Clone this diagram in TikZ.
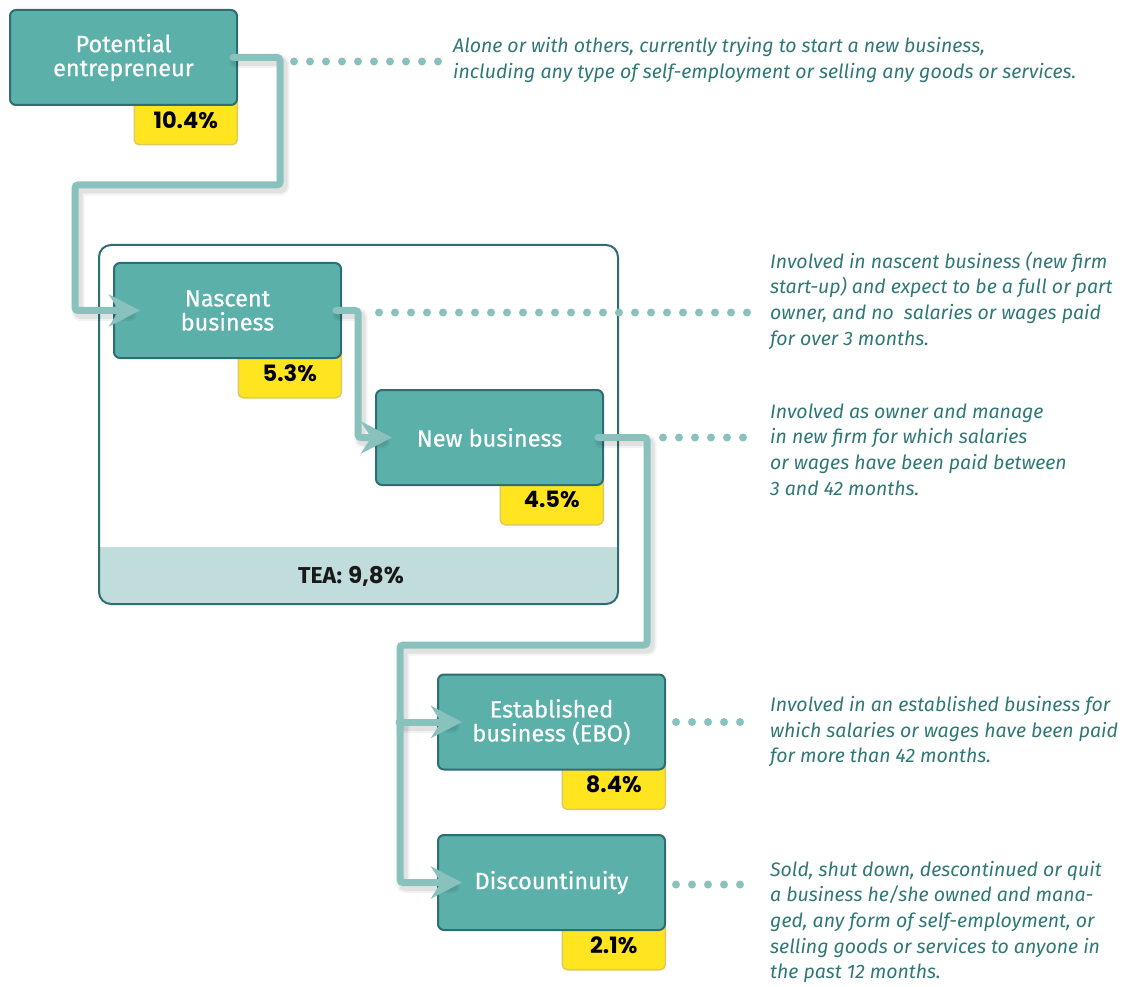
\documentclass[tikz,border=0pt]{standalone}
\usepackage{fontspec}
\setmainfont{Fira Sans}
\newfontfamily\popfont{Poppins}
\newfontfamily\boxfont{Fira Sans}[FakeBold=0.6]
\usetikzlibrary{arrows.meta,calc}
\definecolor{boxfill}{HTML}{5BB0AA}
\definecolor{boxline}{HTML}{2E6E72}
\definecolor{conncol}{HTML}{89C2BD}
\definecolor{yel}{HTML}{FFE520}
\definecolor{yelline}{HTML}{E2C75C}
\definecolor{bandcol}{HTML}{C1DDDB}
\definecolor{desccol}{HTML}{2F7876}
\pgfdeclarelayer{background}
\pgfsetlayers{background,main}
\begin{document}
\begin{tikzpicture}[x=1pt,y=-1pt,
 stagebox/.style={draw=boxline, line width=2pt, fill=boxfill, rounded corners=6pt,
   minimum width=227pt, minimum height=95pt, text=white,
   font=\boxfont\fontsize{23.5}{24}\selectfont, align=center, inner sep=0pt},
 tab/.style={draw=yelline, line width=1.5pt, fill=yel, rounded corners=5pt,
   minimum width=103pt, minimum height=50pt, anchor=north east,
   font=\popfont\bfseries\fontsize{22.5}{23}\selectfont, inner sep=0pt},
 conn/.style={draw=conncol, line width=7pt, rounded corners=3pt, line cap=round},
 tip/.style={-{Stealth[length=31pt,width=32pt,inset=10pt]}},
 shade1/.style={draw=black, opacity=0.05, line width=13pt, rounded corners=3pt, line cap=round},
 shade2/.style={draw=black, opacity=0.07, line width=9pt, rounded corners=3pt, line cap=round},
 dots/.style={draw=conncol, line width=8pt, line cap=round, dash pattern=on 0pt off 16pt},
 desc/.style={anchor=west, align=left, text=desccol, inner sep=0pt,
   font=\itshape\fontsize{19.5}{25.6}\selectfont},
]
\useasboundingbox (0,0) rectangle (1128,987);

% TEA frame
\begin{scope}
  \clip[rounded corners=12pt] (99,245) rectangle (618,604);
  \fill[bandcol] (99,547) rectangle (618,604);
\end{scope}
\draw[boxline, line width=2pt, rounded corners=12pt] (99,245) rectangle (618,604);
\node[font=\fontsize{23}{24}\selectfont, text=black!90] (tea) at (351,576)
  {{\bfseries TEA:} {\popfont\bfseries 9,8\%}};

% stage boxes
\node[stagebox] (pe) at (123.5,57.5) {Potential\\entrepreneur};
\node[stagebox] (nb) at (227.5,310.5) {Nascent\\business};
\node[stagebox] (nw) at (489.5,437.5) {New business};
\node[stagebox] (eb) at (551.5,722) {Established\\business (EBO)};
\node[stagebox] (dc) at (551.5,882.5) {Discountinuity};

% yellow tabs
\begin{pgfonlayer}{background}
\node[tab] (pet) at ([yshift=12pt]pe.south east) {\raisebox{-9pt}{10.4\%}};
\node[tab] (nbt) at ([yshift=12pt]nb.south east) {\raisebox{-9pt}{5.3\%}};
\node[tab] (nwt) at ([yshift=12pt]nw.south east) {\raisebox{-9pt}{4.5\%}};
\node[tab] (ebt) at ([yshift=12pt]eb.south east) {\raisebox{-9pt}{8.4\%}};
\node[tab] (dct) at ([yshift=12pt]dc.south east) {\raisebox{-9pt}{2.1\%}};
\end{pgfonlayer}

% descriptions
\node[desc] (d1) at (453,60) {Alone or with others, currently trying to start a new business,\\including any type of self-employment or selling any goods or services.};
\node[desc] (d2) at (770,300.5) {Involved in nascent business (new firm\\start-up) and expect to be a full or part\\owner, and no\ \ salaries or wages paid\\for over 3 months.};
\node[desc] (d3) at (770,449.5) {Involved as owner and manage\\in new firm for which salaries\\or wages have been paid between\\3 and 42 months.};
\node[desc] (d4) at (770,731.5) {Involved in an established business for\\which salaries or wages have been paid\\for more than 42 months.};
\node[desc] (d5) at (770,922) {Sold, shut down, descontinued or quit\\a business he/she owned and mana-\\ged, any form of self-employment, or\\selling goods or services to anyone in\\the past 12 months.};

% shadows
\begin{scope}[transform canvas={xshift=3pt,yshift=-4pt}]
\foreach \s in {shade1,shade2}{
  \draw[\s] ([xshift=-5pt]pe.east) -| (280,185) -| (75,310.5) -- ([xshift=14pt]nb.west);
  \draw[\s] ([xshift=-6pt]nb.east) -| (358,437.5) -- ([xshift=5pt]nw.west);
  \draw[\s] ([xshift=-6pt]nw.east) -| (647,645) -| (400,882.5) -- ([xshift=13pt]dc.west);
  \draw[\s] ($(eb.west)+(-38,0)$) -- ([xshift=13pt]eb.west);
}
\end{scope}

% connectors
\draw[conn,tip] ([xshift=-5pt]pe.east) -| (280,185) -| (75,310.5) -- ([xshift=27pt]nb.west);
\draw[conn,tip] ([xshift=-6pt]nb.east) -| (358,437.5) -- ([xshift=17pt]nw.west);
\draw[conn,tip] ([xshift=-6pt]nw.east) -| (647,645) -| (400,882.5) -- ([xshift=25pt]dc.west);
\draw[conn,tip] ($(eb.west)+(-38,0)$) -- ([xshift=25pt]eb.west);

% dotted leaders
\draw[dots] ([xshift=56pt,yshift=-4pt]pe.east) -- ++(146,0);
\draw[dots] ([xshift=37pt,yshift=-2pt]nb.east) -- ++(370,0);
\draw[dots] ([xshift=59pt]nw.east) -- ++(82,0);
\draw[dots] ([xshift=10pt]eb.east) -- ++(66,0);
\draw[dots] ([xshift=10pt,yshift=-2pt]dc.east) -- ++(66,0);
\end{tikzpicture}
\end{document}
